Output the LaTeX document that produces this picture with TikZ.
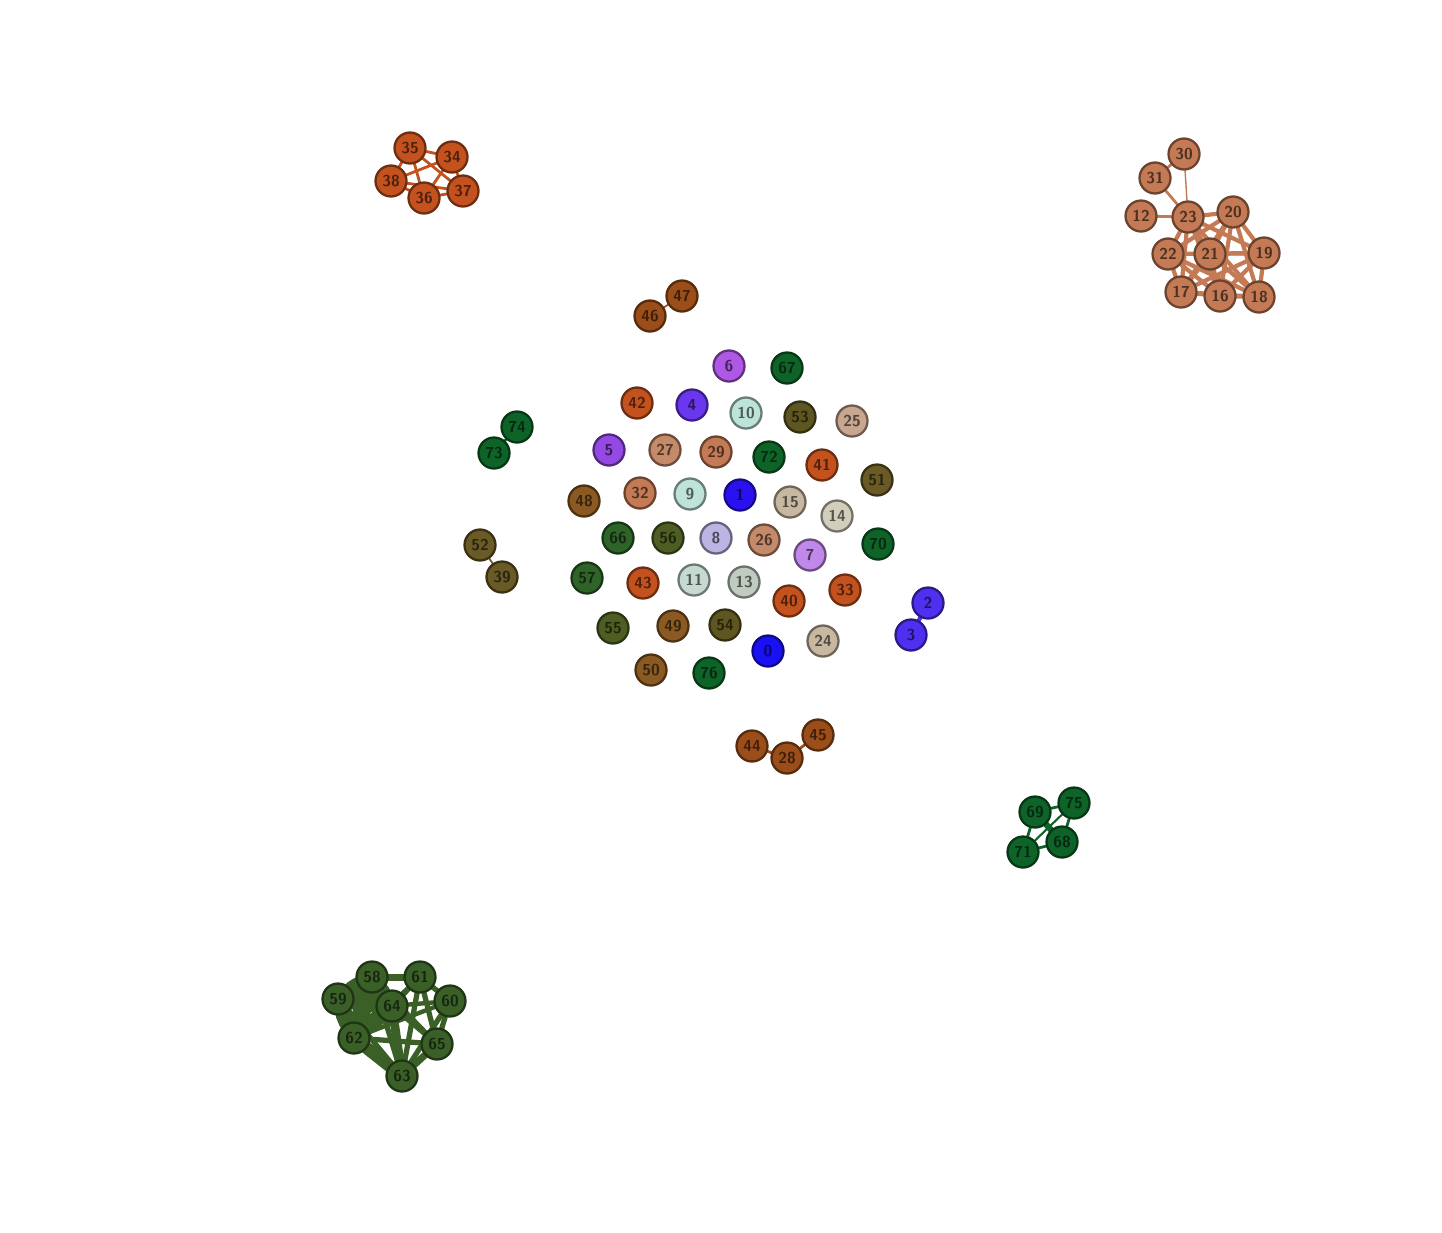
\documentclass[tikz,border=0pt]{standalone}
\usetikzlibrary{backgrounds}

\definecolor{redorange}{HTML}{C4521F}
\definecolor{salmon}{HTML}{C47A55}
\definecolor{rust}{HTML}{9C4E1A}
\definecolor{forest}{HTML}{0E6428}
\definecolor{moss}{HTML}{3A6028}
\definecolor{olive}{HTML}{6A5A26}
\definecolor{violet}{HTML}{B058E6}
\definecolor{indigo}{HTML}{6A36EE}
\definecolor{purplish}{HTML}{9448E4}
\definecolor{lilac}{HTML}{C088E8}
\definecolor{lavender}{HTML}{BCB4E2}
\definecolor{mint}{HTML}{BEE4DA}
\definecolor{mintgrey}{HTML}{C6DAD2}
\definecolor{sage}{HTML}{C0CCC0}
\definecolor{deepblue}{HTML}{2A12F0}
\definecolor{pureblue}{HTML}{1A10F4}
\definecolor{tan}{HTML}{C8A690}
\definecolor{beige}{HTML}{C8B8A2}
\definecolor{pale}{HTML}{D2CEBC}
\definecolor{pinkbrown}{HTML}{C48A6A}
\definecolor{khaki}{HTML}{5E5620}
\definecolor{olivegreen}{HTML}{4E5E22}
\definecolor{grass}{HTML}{2E6428}
\definecolor{ochre}{HTML}{8A5A22}
\definecolor{bluepurple}{HTML}{5030F0}

\tikzset{
  vtx/.style={circle, draw=#1!55!black, fill=#1, line width=1.3pt,
    minimum size=0.62cm, inner sep=0pt,
    font=\fontsize{9}{9}\selectfont\sffamily\bfseries, text=black, text opacity=0.6},
  tie/.style={line width=#1, line cap=round}
}

\begin{document}
\begin{tikzpicture}[x=0.02cm, y=-0.02cm]
    \useasboundingbox (0,0) rectangle (1442,1232);

    % top left group
    \foreach \n/\x/\y in {35/410/148, 34/452/157, 38/391/181, 36/424/198, 37/463/191}
        \node[vtx=redorange] (v\n) at (\x,\y) {\n};

    % top right group
    \foreach \n/\x/\y in {30/1184/154, 31/1155/178, 12/1141/216, 23/1188/217, 20/1233/212,
                          22/1168/254, 21/1210/254, 19/1264/253, 17/1181/292, 16/1220/296, 18/1259/297}
        \node[vtx=salmon] (v\n) at (\x,\y) {\n};

    % small pairs
    \node[vtx=rust] (v46) at (650,316) {46};
    \node[vtx=rust] (v47) at (682,296) {47};
    \node[vtx=rust] (v44) at (752,746) {44};
    \node[vtx=rust] (v28) at (787,758) {28};
    \node[vtx=rust] (v45) at (818,735) {45};
    \node[vtx=forest] (v73) at (494,453) {73};
    \node[vtx=forest] (v74) at (517,427) {74};
    \node[vtx=olive] (v52) at (480,545) {52};
    \node[vtx=olive] (v39) at (502,577) {39};
    \node[vtx=bluepurple] (v2) at (928,603) {2};
    \node[vtx=bluepurple] (v3) at (911,635) {3};

    % middle
    \foreach \n/\x/\y/\c in {6/729/366/violet, 67/787/368/forest, 42/637/403/redorange,
        4/692/405/indigo, 10/746/413/mint, 53/800/417/khaki, 25/852/421/tan,
        5/609/450/purplish, 27/665/450/pinkbrown, 29/716/452/salmon, 72/769/457/forest,
        41/822/465/redorange, 51/877/480/olive, 48/584/501/ochre, 32/640/493/salmon,
        9/690/494/mint, 1/740/495/deepblue, 15/790/502/beige, 14/837/516/pale,
        66/618/538/grass, 56/668/538/olivegreen, 8/716/538/lavender, 26/764/540/pinkbrown,
        7/810/555/lilac, 70/878/544/forest, 57/587/578/grass, 43/643/583/redorange,
        11/694/580/mintgrey, 13/744/582/sage, 40/789/601/redorange, 33/845/590/redorange,
        55/613/628/olivegreen, 49/673/626/ochre, 54/725/625/khaki, 0/768/651/pureblue,
        24/823/641/beige, 50/651/670/ochre, 76/709/673/forest}
        \node[vtx=\c] (v\n) at (\x,\y) {\n};

    % bottom right group
    \foreach \n/\x/\y in {69/1035/812, 75/1074/803, 68/1062/842, 71/1023/852}
        \node[vtx=forest] (v\n) at (\x,\y) {\n};

    % bottom left group
    \foreach \n/\x/\y in {58/372/977, 61/420/977, 59/338/999, 64/392/1006, 60/450/1001,
                          62/354/1038, 65/437/1044, 63/402/1076}
        \node[vtx=moss] (v\n) at (\x,\y) {\n};

    \begin{scope}[on background layer]
        \foreach \a/\b in {35/34, 35/38, 35/36, 35/37, 34/38, 34/36, 34/37, 38/36, 38/37, 36/37}
            \draw[redorange, tie=1.6pt] (v\a) -- (v\b);

        \draw[salmon, tie=0.8pt] (v30) -- (v23);
        \foreach \a/\b in {30/31, 31/23, 12/23}
            \draw[salmon, tie=1.6pt] (v\a) -- (v\b);
        \foreach \a/\b in {23/20, 23/22, 23/21, 23/19, 23/17, 23/16, 23/18,
                           20/22, 20/21, 20/19, 20/17, 20/16, 20/18,
                           22/21, 22/19, 22/17, 22/16, 22/18,
                           21/19, 21/17, 21/16, 21/18,
                           19/17, 19/16, 19/18, 17/16, 17/18, 16/18}
            \draw[salmon, tie=2.4pt] (v\a) -- (v\b);

        \draw[rust, tie=1pt] (v46) -- (v47);
        \draw[rust, tie=1.6pt] (v44) -- (v28);
        \draw[rust, tie=1.6pt] (v28) -- (v45);
        \draw[forest, tie=1.6pt] (v73) -- (v74);
        \draw[olive, tie=1pt] (v52) -- (v39);
        \draw[bluepurple, tie=2.4pt] (v2) -- (v3);

        \foreach \a/\b/\w in {69/75/1.6pt, 69/71/1.6pt, 75/68/1.6pt, 68/71/1.6pt,
                              69/68/3.5pt, 75/71/1.2pt}
            \draw[forest, tie=\w] (v\a) -- (v\b);

        \foreach \a/\b/\w in {58/59/10pt, 59/62/10pt, 62/64/9pt, 58/64/9pt, 59/64/10pt,
                              58/62/10pt, 62/63/7pt, 64/63/5pt, 58/61/4pt,
                              61/64/3pt, 61/60/3pt, 61/65/3pt, 61/63/3pt, 61/62/2.5pt,
                              60/64/2.5pt, 60/65/3pt, 60/63/3pt, 60/62/2.5pt,
                              65/64/3pt, 65/63/4pt, 65/62/3pt, 65/58/2.5pt,
                              63/59/3pt, 63/58/3pt, 64/59/3pt}
            \draw[moss, tie=\w] (v\a) -- (v\b);
    \end{scope}
\end{tikzpicture}
\end{document}
